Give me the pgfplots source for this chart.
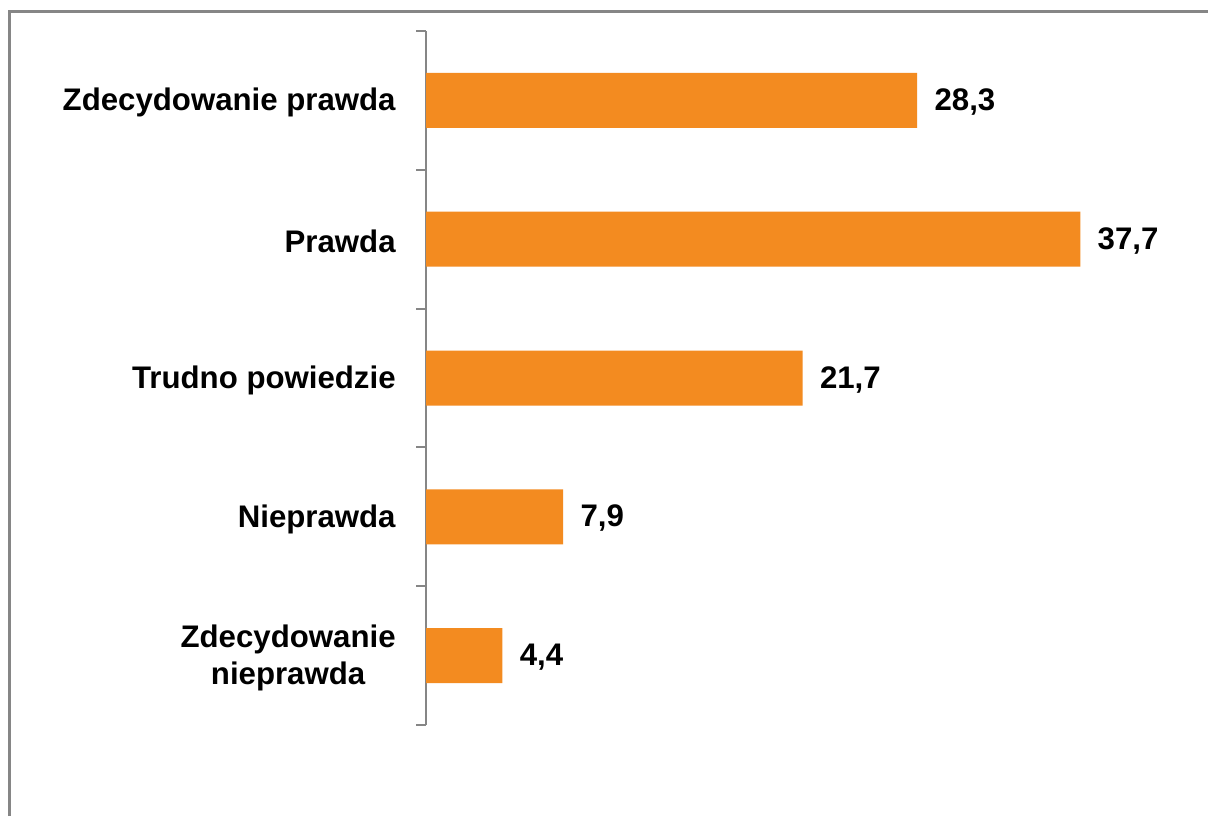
\documentclass[border=0pt]{standalone}
\usepackage{pgfplots}
\pgfplotsset{compat=1.18}
\usepackage{fontspec}
\setmainfont{Liberation Sans}
\definecolor{barorange}{RGB}{243,139,32}
\definecolor{axgray}{RGB}{134,134,134}
\begin{document}
\begin{tikzpicture}
\useasboundingbox (0,0) rectangle (604pt,-408pt);
\draw[axgray, line width=1.3pt] (4.6pt,-408pt) -- (4.6pt,-5.8pt) -- (604pt,-5.8pt);
\begin{axis}[
  at={(213pt,-15.5pt)}, anchor=north west,
  scale only axis, width=390.5pt, height=347pt,
  xbar, bar width=27.5pt,
  xmin=0, xmax=45, ymin=-0.5, ymax=4.5, y dir=reverse,
  hide x axis,
  axis y line*=left,
  y axis line style={-, axgray, line width=1pt},
  ytick={0,1,2,3,4},
  yticklabels={Zdecydowanie prawda, Prawda, Trudno powiedzie, Nieprawda, {Zdecydowanie\\nieprawda}},
  major tick length=0pt,
  minor ytick={-0.5,0.5,1.5,2.5,3.5,4.5},
  minor tick length=5pt,
  tick align=outside,
  minor tick style={axgray, line width=1pt},
  yticklabel style={font=\fontsize{15.6}{18.5}\selectfont\bfseries, align=center, inner sep=0pt, xshift=-15pt, yshift=-1.2pt},
  nodes near coords,
  nodes near coords style={anchor=west, inner sep=0pt, xshift=8.5pt, yshift=-0.8pt, font=\fontsize{15.6}{18.5}\selectfont\bfseries, black},
  /pgf/number format/.cd, fixed, fixed zerofill, precision=1, use comma, assume math mode=true,
]
\addplot[fill=barorange, draw=none] coordinates {(28.3,0) (37.7,1) (21.7,2) (7.9,3) (4.4,4)};
\end{axis}
\end{tikzpicture}
\end{document}
